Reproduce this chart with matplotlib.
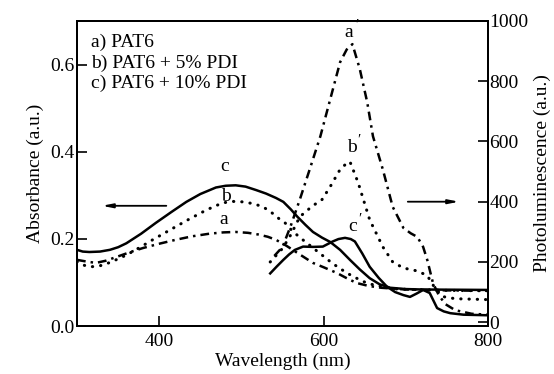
import matplotlib
matplotlib.use("Agg")
import matplotlib.pyplot as plt

plt.rcParams['font.family'] = ['Liberation Serif', 'DejaVu Serif']

# Absorbance (left axis)
abs_a_wl = [300, 312, 323, 335, 350, 365, 380, 400, 420, 440, 461, 478, 493, 508, 521, 532, 542, 555, 568, 587, 600, 616, 628, 640, 655, 670, 700, 750, 800]
abs_a = [0.152, 0.148, 0.145, 0.150, 0.160, 0.170, 0.179, 0.189, 0.198, 0.206, 0.212, 0.215, 0.216, 0.214, 0.210, 0.205, 0.198, 0.184, 0.168, 0.145, 0.135, 0.122, 0.110, 0.099, 0.092, 0.088, 0.084, 0.082, 0.081]

abs_b_wl = [300, 308, 315, 323, 332, 345, 360, 376, 392, 406, 420, 437, 453, 466, 478, 490, 502, 514, 526, 537, 546, 553, 560, 570, 580, 590, 600, 610, 620, 630, 640, 650, 660, 675, 690, 750, 800]
abs_b = [0.148, 0.140, 0.136, 0.137, 0.140, 0.150, 0.163, 0.180, 0.198, 0.213, 0.228, 0.246, 0.262, 0.274, 0.283, 0.286, 0.285, 0.281, 0.274, 0.260, 0.246, 0.237, 0.222, 0.205, 0.190, 0.175, 0.160, 0.145, 0.132, 0.120, 0.110, 0.101, 0.095, 0.089, 0.085, 0.082, 0.081]

abs_c_wl = [300, 307, 315, 328, 340, 350, 360, 378, 396, 415, 433, 450, 469, 481, 493, 505, 518, 530, 542, 551, 560, 568, 578, 587, 598, 608, 620, 632, 644, 656, 668, 681, 700, 720, 800]
abs_c = [0.175, 0.171, 0.170, 0.171, 0.175, 0.181, 0.190, 0.212, 0.237, 0.262, 0.285, 0.303, 0.318, 0.322, 0.323, 0.320, 0.312, 0.304, 0.294, 0.285, 0.268, 0.251, 0.232, 0.216, 0.203, 0.193, 0.175, 0.152, 0.130, 0.110, 0.096, 0.088, 0.085, 0.084, 0.083]

# Photoluminescence (right axis)
pl_a_wl = [540, 550, 560, 571, 583, 596, 608, 620, 628, 635, 644, 653, 660, 672, 684, 697, 706, 714, 721, 726, 733, 740, 748, 760, 780, 800]
pl_a = [220, 250, 320, 407, 507, 617, 740, 863, 905, 923, 840, 730, 617, 507, 383, 313, 295, 283, 250, 207, 130, 90, 60, 40, 28, 25]

pl_b_wl = [535, 550, 560, 571, 586, 598, 608, 620, 627, 632, 642, 656, 672, 684, 697, 714, 726, 735, 745, 760, 800]
pl_b = [200, 245, 290, 350, 385, 407, 450, 507, 525, 533, 463, 340, 250, 200, 180, 170, 155, 115, 85, 78, 75]

pl_c_wl = [535, 543, 551, 558, 565, 575, 587, 599, 611, 618, 626, 633, 638, 647, 656, 667, 677, 687, 697, 705, 713, 721, 729, 738, 746, 754, 770, 800]
pl_c = [162, 185, 207, 225, 240, 251, 250, 251, 268, 276, 280, 276, 268, 228, 184, 147, 118, 100, 90, 84, 95, 107, 97, 47, 36, 30, 25, 23]

legend_lines = ["a) PAT6", "b) PAT6 + 5% PDI", "c) PAT6 + 10% PDI"]

fig = plt.figure(figsize=(5.54, 3.74), dpi=100)
ax = fig.add_axes([0.139, 0.128, 0.742, 0.816])
ax2 = ax.twinx()

dashdot = (0, (3.5, 2, 1, 2))
dotted = (0, (0.1, 2.6))
k = 'black'

ax.plot(abs_a_wl, abs_a, color=k, lw=1.8, linestyle=dashdot)
ax.plot(abs_b_wl, abs_b, color=k, lw=2.2, linestyle=dotted, dash_capstyle='round')
ax.plot(abs_c_wl, abs_c, color=k, lw=1.8)

ax2.plot(pl_a_wl, pl_a, color=k, lw=1.8, linestyle=dashdot)
ax2.plot(pl_b_wl, pl_b, color=k, lw=2.2, linestyle=dotted, dash_capstyle='round')
ax2.plot(pl_c_wl, pl_c, color=k, lw=1.8)

ax.set_xlim(300, 800)
ax.set_ylim(0, 0.7)
ax2.set_ylim(-13, 1000)

ax.set_xticks([400, 600, 800])
ax.set_yticks([0.0, 0.2, 0.4, 0.6])
ax.set_yticklabels(["0.0", "0.2", "0.4", "0.6"])
ax2.set_yticks([0, 200, 400, 600, 800, 1000])

fs = 14
ax.tick_params(axis='both', direction='in', length=7, width=1.2, labelsize=fs, pad=3)
ax.tick_params(axis='x', pad=5)
ax2.tick_params(axis='y', direction='in', length=7, width=1.2, labelsize=fs, pad=1)
ax.tick_params(axis='y', pad=2)
for a in (ax, ax2):
    for s in a.spines.values():
        s.set_linewidth(1.4)

ax.set_xlabel("Wavelength (nm)", fontsize=fs, labelpad=2)
ax.set_ylabel("Absorbance (a.u.)", fontsize=fs, labelpad=4)
ax2.set_ylabel("Photoluminescence (a.u.)", fontsize=fs, labelpad=4)

# legend text
for i, t in enumerate(legend_lines):
    ax.text(0.033, 0.93 - i * 0.068, t, transform=ax.transAxes, fontsize=fs,
            va='center', ha='left')

# curve labels
ax.text(479, 0.366, "c", fontsize=fs, ha='center', va='center')
ax.text(481, 0.297, "b", fontsize=fs, ha='center', va='center')
ax.text(479, 0.244, "a", fontsize=fs, ha='center', va='center')
for lbl, x, y in [("a", 631, 963), ("b", 634, 580), ("c", 635, 317)]:
    ax2.text(x, y, lbl, fontsize=fs, ha='center', va='center')
    ax2.text(x + 9, y + 25, "\u2032", fontsize=fs - 3, ha='center', va='center')

# arrows
ax.annotate("", xy=(327, 0.276), xytext=(412, 0.276),
            arrowprops=dict(arrowstyle='-|>,head_length=0.6,head_width=0.12', color=k, lw=1.3))
ax2.annotate("", xy=(768, 400), xytext=(699, 400),
             arrowprops=dict(arrowstyle='-|>,head_length=0.6,head_width=0.12', color=k, lw=1.3))

fig.savefig("out.png", dpi=100)
